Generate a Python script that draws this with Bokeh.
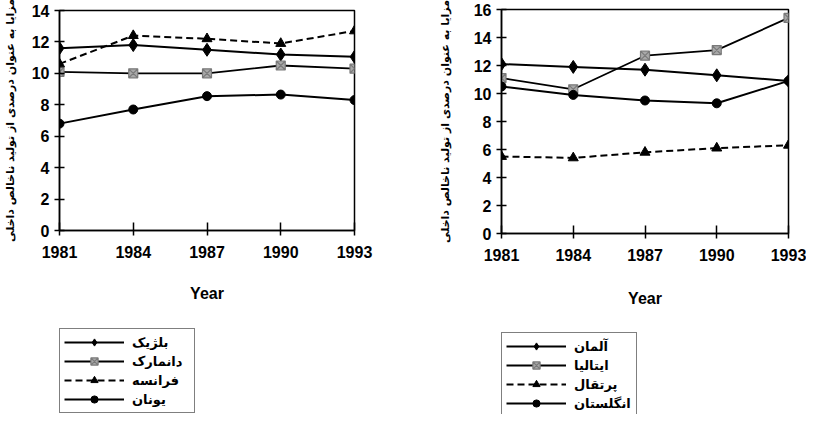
from bokeh.plotting import figure
from bokeh.models import Range1d, FixedTicker, Legend, LegendItem
from bokeh.layouts import row, column
from bokeh.embed import file_html
from bokeh.resources import INLINE

years = [1981, 1984, 1987, 1990, 1993]
y_label = "مزایا به عنوان درصدی از تولید ناخالص داخلی"
x_label = "Year"

# left chart
belgium = [11.6, 11.8, 11.5, 11.2, 11.05]
denmark = [10.1, 10.0, 10.0, 10.5, 10.3]
france = [10.6, 12.4, 12.2, 11.9, 12.7]
greece = [6.8, 7.7, 8.55, 8.65, 8.3]
left_names = ["بلژیک", "دانمارک", "فرانسه", "یونان"]

# right chart
germany = [12.1, 11.9, 11.7, 11.3, 10.9]
italy = [11.1, 10.3, 12.7, 13.1, 15.4]
portugal = [5.5, 5.4, 5.8, 6.1, 6.3]
uk = [10.5, 9.9, 9.5, 9.3, 10.9]
right_names = ["آلمان", "ایتالیا", "پرتقال", "انگلستان"]

NUM_FONT = "Liberation Sans"
FA_FONT = "DejaVu Sans"

kinds = ["diamond", "gray", "triangle", "circle"]


def make_fig(ymax, bl, br, bt, bb, fw, fh, label_standoff, title_standoff):
    p = figure(output_backend="svg", toolbar_location=None,
               frame_width=fw, frame_height=fh,
               min_border_left=bl, min_border_right=br,
               min_border_top=bt, min_border_bottom=bb,
               x_range=Range1d(1981, 1993), y_range=Range1d(0, ymax),
               background_fill_color="white", border_fill_color="white")
    p.grid.visible = False
    p.outline_line_color = "black"
    p.outline_line_width = 1.5
    for ax in (p.xaxis[0], p.yaxis[0]):
        ax.axis_line_color = "black"
        ax.axis_line_width = 1.5
        ax.major_tick_line_color = "black"
        ax.major_tick_line_width = 1.5
        ax.minor_tick_line_color = None
        ax.major_label_text_font = NUM_FONT
        ax.major_label_text_font_style = "bold"
        ax.major_label_text_font_size = "16px"
        ax.major_label_text_color = "black"
        ax.axis_label_text_color = "black"
        ax.axis_label_text_font_style = "bold"
    p.xaxis.ticker = FixedTicker(ticks=years)
    p.xaxis.major_tick_in = 8
    p.xaxis.major_tick_out = 5
    p.xaxis.major_label_standoff = 10
    p.xaxis.axis_label = x_label
    p.xaxis.axis_label_text_font = NUM_FONT
    p.xaxis.axis_label_text_font_size = "16px"
    p.xaxis.axis_label_standoff = title_standoff
    p.yaxis.ticker = FixedTicker(ticks=list(range(0, ymax + 1, 2)))
    p.yaxis.major_tick_in = 5
    p.yaxis.major_tick_out = 5
    p.yaxis.major_label_standoff = 5
    p.yaxis.axis_label = y_label
    p.yaxis.axis_label_text_font = FA_FONT
    p.yaxis.axis_label_text_font_size = "11px"
    p.yaxis.axis_label_standoff = label_standoff
    return p


def add_series(p, vals, kind):
    if kind == "diamond":
        l = p.line(years, vals, line_color="black", line_width=2)
        s = p.scatter(years, vals, marker="diamond", size=13, fill_color="black", line_color="black")
    elif kind == "gray":
        l = p.line(years, vals, line_color="black", line_width=1.8)
        s = p.scatter(years, vals, marker="square_x", size=9, fill_color="#a8a8a8", line_color="#7a7a7a", line_width=1.2)
    elif kind == "triangle":
        l = p.line(years, vals, line_color="black", line_width=2, line_dash="7 4")
        s = p.scatter(years, vals, marker="triangle", size=10, fill_color="black", line_color="black")
    else:
        l = p.line(years, vals, line_color="black", line_width=2)
        s = p.scatter(years, vals, marker="circle", size=9, fill_color="black", line_color="black")
    return [l, s]


def legend_fig(names, series, bl, br, fw, fh):
    # the series are drawn again here only to feed the legend; the ranges keep them off-frame
    q = figure(output_backend="svg", toolbar_location=None,
               frame_width=fw, frame_height=fh,
               min_border_left=bl, min_border_right=br,
               min_border_top=0, min_border_bottom=0,
               x_range=Range1d(0, 1), y_range=Range1d(0, 1),
               x_axis_type=None, y_axis_type=None,
               background_fill_color="white", border_fill_color="white")
    q.grid.visible = False
    q.outline_line_color = None
    rends = [add_series(q, v, k) for v, k in zip(series, kinds)]
    items = [LegendItem(label=n, renderers=r) for n, r in zip(names, rends)]
    lg = Legend(items=items, location="top_left", orientation="vertical",
                glyph_width=60, glyph_height=18, spacing=1, padding=4, margin=0,
                label_width=58, label_standoff=8, label_height=18,
                label_text_font=FA_FONT, label_text_font_size="13px",
                label_text_font_style="bold", label_text_color="black",
                border_line_color="black", border_line_width=1.5,
                background_fill_color="white", background_fill_alpha=1.0)
    q.add_layout(lg)
    return q


left_series = [belgium, denmark, france, greece]
right_series = [germany, italy, portugal, uk]

p1 = make_fig(14, 57, 58, 10, 98, 295, 220, 12, 24)
for v, k in zip(left_series, kinds):
    add_series(p1, v, k)
lg1 = legend_fig(left_names, left_series, 57, 58, 295, 86)

p2 = make_fig(16, 89, 18, 9, 99, 287, 224, 19, 26)
for v, k in zip(right_series, kinds):
    add_series(p2, v, k)
lg2 = legend_fig(right_names, right_series, 89, 18, 287, 82)

layout = row(column(p1, lg1, spacing=0), column(p2, lg2, spacing=0), spacing=0)
open("out.html", "w").write(file_html(layout, INLINE))
